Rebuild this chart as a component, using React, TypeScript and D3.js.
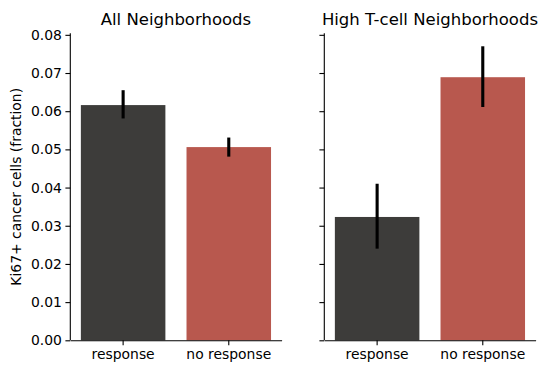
import React, { useEffect, useRef } from 'react';
import * as d3 from 'd3';

const categories = ['response', 'no response'];
const panelTitles = ['All Neighborhoods', 'High T-cell Neighborhoods'];
const meansAll = [0.0616, 0.0506];
const lowAll = [0.0581, 0.0481];
const highAll = [0.0655, 0.0531];
const meansHigh = [0.0323, 0.0689];
const lowHigh = [0.0240, 0.0611];
const highHigh = [0.0410, 0.0770];
const yTicks = [0, 0.01, 0.02, 0.03, 0.04, 0.05, 0.06, 0.07, 0.08];
const barColors = ['#3d3c3a', '#b8584e'];

const App = () => {
  const svgRef = useRef<SVGSVGElement>(null);

  useEffect(() => {
    const svg = d3.select(svgRef.current);
    svg.selectAll('*').remove();

    const font = 'DejaVu Sans, sans-serif';
    const top = 33.3;
    const bottom = 340.3;
    const panelX = [70.3, 324.3];
    const panelW = 211.3;

    const y = d3.scaleLinear().domain([0, 0.0804]).range([bottom, top]);

    const panels = [
      { means: meansAll, low: lowAll, high: highAll },
      { means: meansHigh, low: lowHigh, high: highHigh },
    ];

    panels.forEach((p, i) => {
      const x = d3.scaleBand().domain(categories)
        .range([panelX[i], panelX[i] + panelW]).paddingInner(0.2).paddingOuter(0.1);
      const g = svg.append('g');

      // bars
      categories.forEach((c, j) => {
        g.append('rect')
          .attr('x', x(c)!)
          .attr('y', y(p.means[j]))
          .attr('width', x.bandwidth())
          .attr('height', y(0) - y(p.means[j]))
          .attr('fill', barColors[j]);
        g.append('line')
          .attr('x1', x(c)! + x.bandwidth() / 2)
          .attr('x2', x(c)! + x.bandwidth() / 2)
          .attr('y1', y(p.low[j]))
          .attr('y2', y(p.high[j]))
          .attr('stroke', '#000')
          .attr('stroke-width', 3.1);
      });

      // y axis
      const yAxis = d3.axisLeft(y).tickValues(yTicks).tickSize(4.9).tickPadding(3.5)
        .tickFormat(i === 0 ? d3.format('.2f') : () => '');
      const ya = g.append('g').attr('transform', `translate(${panelX[i]},0)`).call(yAxis);
      ya.select('.domain').attr('d', `M-0,${top}V${bottom}`).attr('stroke-width', 1.1);
      ya.selectAll('line').attr('stroke-width', 1.1);
      ya.selectAll('text').attr('font-family', font).attr('font-size', 13.9).attr('fill', '#000');

      // x axis
      const xAxis = d3.axisBottom(x).tickSize(4.9).tickPadding(3.5).tickSizeOuter(0);
      const xa = g.append('g').attr('transform', `translate(0,${bottom})`).call(xAxis);
      xa.select('.domain').attr('stroke-width', 1.1);
      xa.selectAll('line').attr('stroke-width', 1.1);
      xa.selectAll('text').attr('font-family', font).attr('font-size', 13.9).attr('fill', '#000');

      g.append('text')
        .attr('x', panelX[i] + panelW / 2)
        .attr('y', 24.5)
        .attr('text-anchor', 'middle')
        .attr('font-family', font)
        .attr('font-size', 16.5)
        .attr('fill', '#000')
        .text(panelTitles[i]);
    });

    svg.append('text')
      .attr('transform', `translate(21,${(top + bottom) / 2}) rotate(-90)`)
      .attr('text-anchor', 'middle')
      .attr('font-family', font)
      .attr('font-size', 13.9)
      .attr('fill', '#000')
      .text('Ki67+ cancer cells (fraction)');
  }, []);

  return (
    <svg ref={svgRef} width={548} height={374}
      style={{ position: 'absolute', left: 0, top: 0, background: '#fff' }} />
  );
};

export default App;
